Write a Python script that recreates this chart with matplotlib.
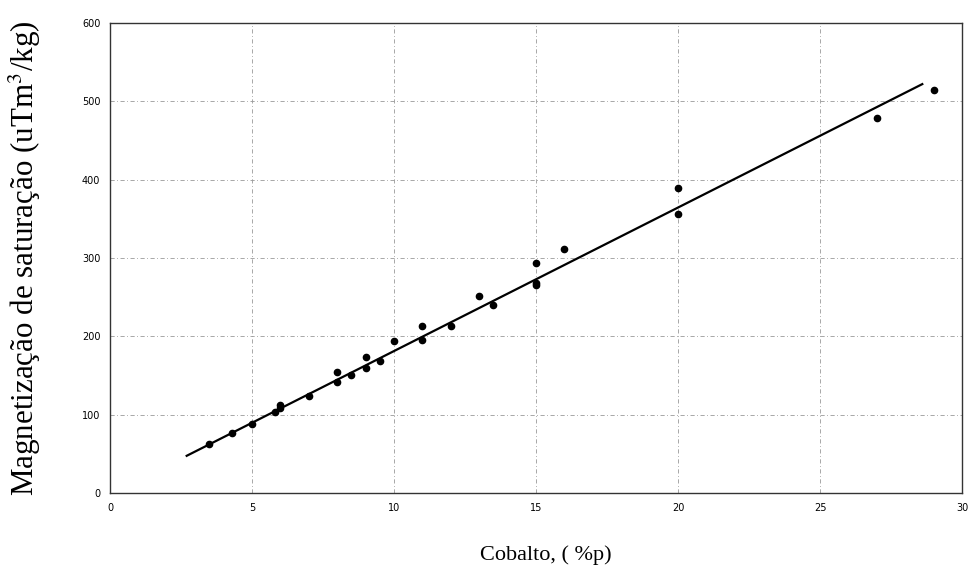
import matplotlib.pyplot as plt

plt.rcParams['mathtext.fontset'] = 'stix'

# measured points (cobalt wt%, saturation magnetisation)
cobalto = [3.5, 4.3, 5.0, 5.8, 6.0, 6.0, 7.0, 8.0, 8.0, 8.5, 9.0, 9.0, 9.5,
           10.0, 11.0, 11.0, 12.0, 13.0, 13.5, 15.0, 15.0, 15.0, 16.0,
           20.0, 20.0, 27.0, 29.0]
magnet = [62, 77, 88, 104, 108, 113, 124, 154, 142, 151, 174, 160, 168,
          194, 213, 195, 213, 252, 240, 293, 268, 265, 311,
          389, 356, 479, 515]

# fitted line end points
fit_x = [2.7, 28.6]
fit_y = [47.5, 522]

xticks = [0, 5, 10, 15, 20, 25, 30]
yticks = [0, 100, 200, 300, 400, 500, 600]

fig = plt.figure(figsize=(9.7, 5.87), dpi=100)
ax = fig.add_axes([0.1134, 0.1601, 0.8784, 0.8007])

ax.plot(fit_x, fit_y, color='k', linewidth=1.6, zorder=3)
ax.plot(cobalto, magnet, 'o', color='k', markersize=4.5, zorder=4)

ax.set_xlim(0, 30)
ax.set_ylim(0, 600)
ax.set_xticks(xticks)
ax.set_yticks(yticks)
ax.tick_params(length=0, labelsize=7, pad=7)
ax.grid(True, color='#999999', linestyle=(0, (5, 3, 1, 3)), linewidth=0.6)
for s in ax.spines.values():
    s.set_linewidth(1.0)
    s.set_color('#333333')

fig.text(0.563, 0.055, 'Cobalto, ( %p)', ha='center', va='center',
         fontsize=16, family='Liberation Serif')
fig.text(0.026, 0.56, 'Magnetização de saturação (uTm$^3$/kg)', ha='center',
         va='center', rotation='vertical', fontsize=22.3, family='Liberation Serif')

plt.savefig('out.png', dpi=100)
